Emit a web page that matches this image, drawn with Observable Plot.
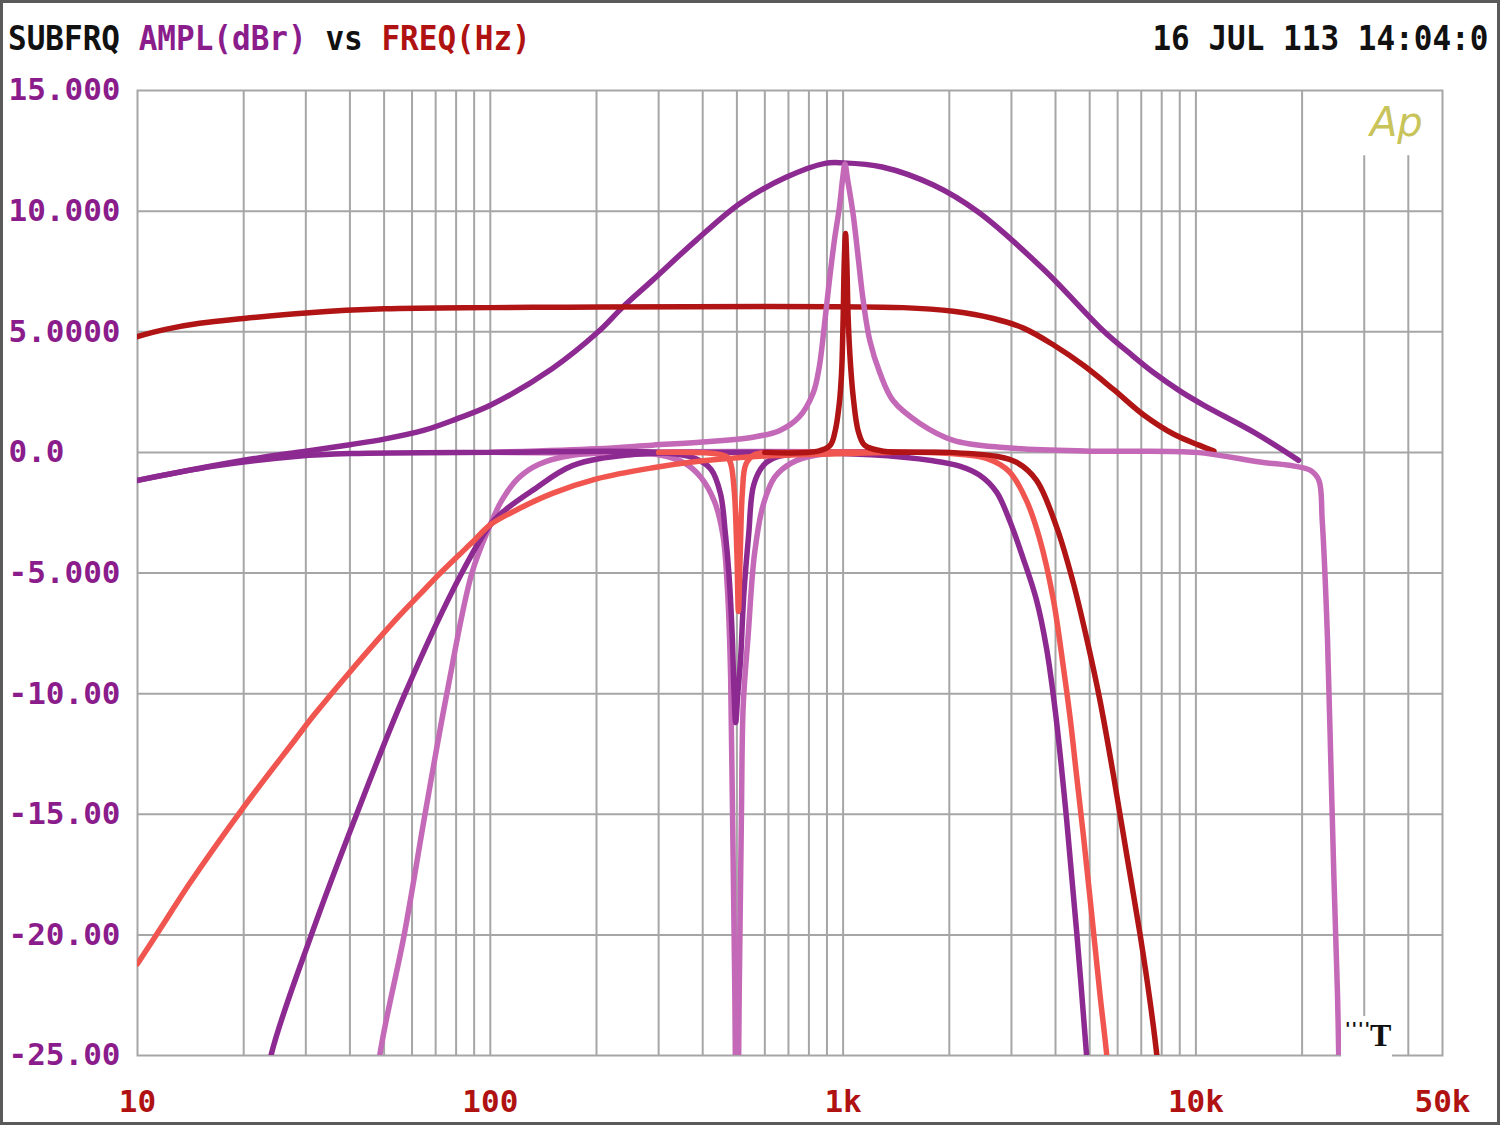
<!DOCTYPE html>
<html><head><meta charset="utf-8">
<script src="https://cdn.jsdelivr.net/npm/d3@7"></script>
<script src="https://cdn.jsdelivr.net/npm/@observablehq/plot@0.6"></script>
<style>
html,body{margin:0;padding:0;background:#fff;}
#wrap{position:relative;width:1500px;height:1125px;overflow:hidden;background:#fff;}
#border{position:absolute;left:0;top:0;width:1500px;height:1125px;box-sizing:border-box;border:3px solid #5a5a5a;pointer-events:none;}
.mono{font-family:"DejaVu Sans Mono",monospace;font-size:34px;font-weight:bold;line-height:36px;}
#title{position:absolute;left:8px;top:20px;white-space:pre;transform:scaleX(0.912);transform-origin:left center;}
#date{position:absolute;right:12px;top:20px;white-space:pre;color:#111;transform:scaleX(0.912);transform-origin:right center;}
#ap{position:absolute;left:1370px;top:98px;font-family:"DejaVu Sans",sans-serif;font-style:italic;font-size:40px;color:#c8c45a;line-height:48px;}
#tmark{position:absolute;left:1341px;top:1016px;width:51px;height:42px;background:#fff;}
#tmark span{position:absolute;}
</style></head>
<body><div id="wrap"><div id="chart"></div>
<div id="title" class="mono"><span style="color:#111">SUBFRQ </span><span style="color:#8b1c8b">AMPL(dBr)</span><span style="color:#111"> vs </span><span style="color:#b01212">FREQ(Hz)</span></div>
<div id="date" class="mono">16 JUL 113 14:04:0</div>
<div id="ap">Ap</div>
<div id="tmark"><span style="left:4px;top:2px;font:bold 18px 'DejaVu Sans';color:#111;letter-spacing:1px;">''''</span><span style="left:29px;top:1px;font:bold 32px 'Liberation Serif',serif;color:#111;line-height:36px;">T</span></div>
<div id="border"></div>
</div>
<script>
// Axis ticks and labels
const xTicks = [10, 100, 1000, 10000, 50000];
const xLabels = ["10", "100", "1k", "10k", "50k"];
const yTicks = [15, 10, 5, 0, -5, -10, -15, -20, -25];
const yLabels = ["15.000", "10.000", "5.0000", "0.0", "-5.000", "-10.00", "-15.00", "-20.00", "-25.00"];
const gridFreqsFull = [20,30,40,50,60,70,80,90,100,200,300,400,500,600,700,800,900,1000,2000,3000,4000,5000,6000,7000,8000,9000,10000,20000];
const gridFreqsShort = [30000, 40000];
const gridDb = [10, 5, 0, -5, -10, -15, -20];

// Curves: [frequency Hz, level dBr]
const purpleBell = [[10,-1.16],[20,-0.33],[30,0.05],[40,0.32],[50,0.55],[65,0.92],[80,1.38],[100,1.95],[150,3.48],[203,5.02],[237,6.01],[288,7.13],[383,8.79],[510,10.32],[689,11.4],[889,11.98],[1000,12.0],[1291,11.83],[1803,11.08],[2415,9.96],[3698,7.59],[5480,5.02],[6500,4.1],[7600,3.3],[9000,2.55],[10540,1.95],[14620,0.83],[19550,-0.33]];
const redShelf = [[10,4.8],[12,5.1],[15,5.35],[20,5.55],[30,5.78],[50,5.95],[100,6.0],[1480,6.0],[2053,5.85],[2667,5.55],[3245,5.15],[3951,4.45],[4810,3.6],[5850,2.6],[7115,1.55],[8660,0.75],[10200,0.3],[11250,0.05]];
const pinkBandpass = [[46,-28.5],[48.6,-25],[57,-20],[65.3,-15],[75.3,-10],[88.7,-5],[100,-3.0],[108,-1.97],[120,-1.07],[137,-0.5],[171,-0.12],[250,0],[2000,0]];
const pinkBell = [[100,0],[200,0.15],[288,0.3],[400,0.43],[555,0.63],[660,0.9],[751,1.47],[822,2.45],[855,3.5],[884,5.2],[914,7.1],[945,8.8],[977,10.2],[998,11.4],[1012,11.95],[1030,11.3],[1067,9.9],[1103,8.1],[1140,6.3],[1192,4.6],[1271,3.3],[1385,2.15],[1651,1.2],[2054,0.5],[2850,0.2],[5000,0.05],[10000,0],[15200,-0.4],[19000,-0.57],[21100,-0.74],[22300,-1.15],[22800,-2.8],[23600,-7.7],[24100,-12.6],[24600,-17.5],[25200,-22.5],[25400,-25],[25700,-30]];
const pinkNotch = [[100,0],[250,-0.05],[300,-0.1],[355,-0.44],[395,-1.03],[432,-2.04],[456,-3.4],[471,-5.9],[480,-9.3],[486,-15],[493,-22],[500,-32],[508,-22],[515,-15],[521,-10.5],[538,-7.6],[561,-4.2],[593,-2.2],[640,-1.03],[714,-0.44],[850,-0.1],[1500,0]];
const purpleBandpass = [[22.5,-27.5],[23.9,-25],[31.1,-20],[41.8,-15],[57.3,-10],[83,-5],[100,-3.0],[110,-2.4],[131,-1.6],[171,-0.55],[250,-0.1],[400,0],[1200,-0.1],[1800,-0.35],[2140,-0.57],[2440,-0.95],[2720,-1.64],[2960,-2.8],[3240,-4.4],[3530,-6.1],[3770,-8.1],[4000,-10.8],[4300,-15.2],[4600,-20],[4900,-25],[5000,-26.8]];
const purpleNotch = [[10,-1.16],[16.5,-0.57],[28.5,-0.16],[40,-0.05],[100,0],[300,0],[380,-0.25],[422,-0.7],[449,-1.7],[464,-3.4],[475,-5.1],[485,-7.6],[491,-10],[496,-11.2],[503,-10],[512,-8.6],[523,-5.9],[540,-3.4],[558,-1.35],[596,-0.52],[646,-0.2],[750,-0.05],[1500,0]];
const coralBandpass = [[10,-21.2],[11.9,-19.5],[14,-17.9],[20,-14.7],[28,-11.9],[31.6,-10.9],[40,-9.1],[55,-6.8],[63,-5.9],[70,-5.2],[85,-4.0],[90,-3.65],[100,-3.0],[120,-2.35],[150,-1.7],[200,-1.1],[286,-0.65],[400,-0.35],[600,-0.15],[1000,-0.05],[1600,0],[2140,-0.08],[2550,-0.25],[2960,-0.8],[3310,-2.0],[3610,-3.6],[3940,-6.07],[4210,-8.9],[4400,-11],[4590,-13.4],[4800,-15.9],[5070,-19.2],[5350,-22.5],[5590,-25],[5700,-26.5]];
const coralNotch = [[300,0],[430,-0.05],[470,-0.2],[481,-0.5],[492,-1.7],[500,-4.2],[505,-6.6],[511,-4.2],[518,-1.7],[530,-0.5],[560,-0.1],[700,0],[1500,0]];
const redPeakLowpass = [[600,0],[850,0.05],[920,0.3],[950,0.9],[975,2.0],[990,3.3],[1000,5.5],[1008,8.0],[1016,9.07],[1024,8.0],[1034,5.5],[1050,3.6],[1070,2.2],[1103,0.9],[1150,0.3],[1300,0.05],[2000,0],[2720,-0.16],[3100,-0.41],[3530,-1.15],[4030,-3.1],[4490,-5.4],[4900,-7.7],[5350,-10.3],[5840,-13.4],[6370,-16.7],[6950,-20],[7420,-22.8],[7750,-25],[7900,-26.5]];

const PURPLE = "#8d2a91", PINK = "#c468b8", CORAL = "#f0564f", DARKRED = "#b01414";
const GRID = "#a6a6a6";
const lineOpts = (color) => ({x: d => d[0], y: d => d[1], stroke: color, strokeWidth: 5.5, curve: "catmull-rom", clip: true});
const font = "DejaVu Sans Mono, monospace";

const chart = Plot.plot({
  width: 1500, height: 1125,
  marginLeft: 137, marginRight: 58, marginTop: 90, marginBottom: 70,
  x: {type: "log", domain: [10, 50000], axis: null},
  y: {domain: [-25, 15]},
  style: {background: "#fff", overflow: "visible"},
  marks: [
    Plot.ruleX(gridFreqsFull, {stroke: GRID, strokeWidth: 2}),
    Plot.ruleX(gridFreqsShort, {y1: -25, y2: 12.3, stroke: GRID, strokeWidth: 2}),
    Plot.ruleY(gridDb, {stroke: GRID, strokeWidth: 2}),
    Plot.frame({stroke: GRID, strokeWidth: 2}),
    Plot.line(purpleBell, lineOpts(PURPLE)),
    Plot.line(redShelf, lineOpts(DARKRED)),
    Plot.line(pinkBandpass, lineOpts(PINK)),
    Plot.line(pinkNotch, lineOpts(PINK)),
    Plot.line(pinkBell, lineOpts(PINK)),
    Plot.line(purpleBandpass, lineOpts(PURPLE)),
    Plot.line(purpleNotch, lineOpts(PURPLE)),
    Plot.line(coralBandpass, lineOpts(CORAL)),
    Plot.line(coralNotch, lineOpts(CORAL)),
    Plot.line(redPeakLowpass, lineOpts(DARKRED)),
    Plot.axisY({ticks: yTicks, tickFormat: d => yLabels[yTicks.indexOf(d)], tickSize: 0, tickPadding: 0, textAnchor: "start", dx: -129, fontSize: 31, fontFamily: font, fontWeight: "bold", color: "#8b1c8b", label: null}),
    Plot.text(xTicks, {x: d => d, text: (d, i) => xLabels[i], frameAnchor: "bottom", lineAnchor: "middle", dy: 47, fontSize: 31, fontFamily: font, fontWeight: "bold", fill: "#b01212"})
  ]
});
document.getElementById("chart").appendChild(chart);
</script>
</body></html>
